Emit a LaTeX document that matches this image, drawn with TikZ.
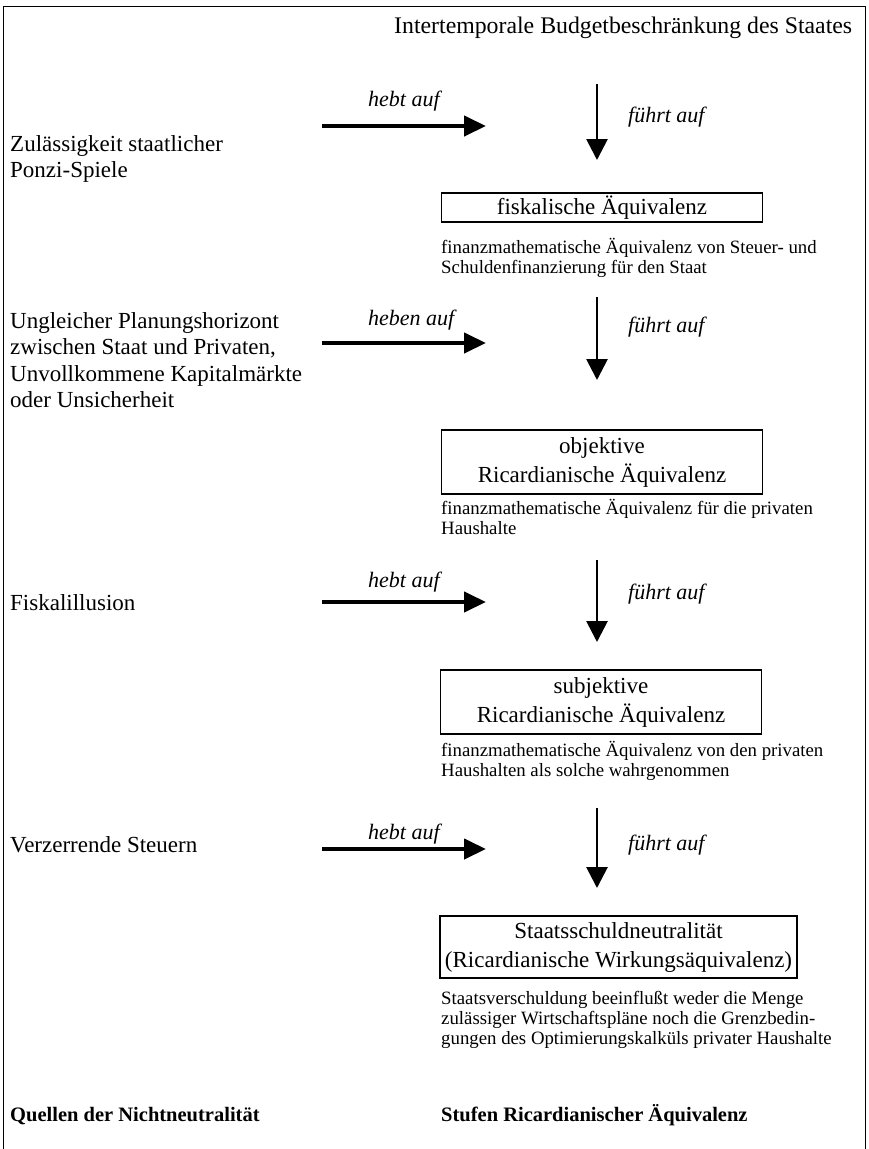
\documentclass[tikz,border=0pt]{standalone}
\usepackage{fontspec}
\setmainfont{Liberation Serif}
\usetikzlibrary{arrows.meta,positioning}

\begin{document}
\begin{tikzpicture}[x=1pt,y=-1pt,
    source/.style={anchor=north west,align=left,inner sep=0pt,font=\fontsize{23}{26.5}\selectfont},
    note/.style={anchor=north west,align=left,inner sep=0pt,font=\fontsize{18.8}{20}\selectfont},
    stage/.style={draw,line width=1.2pt,align=center,inner sep=0pt,font=\fontsize{23}{29}\selectfont},
    act/.style={anchor=base west,inner sep=0pt,font=\fontsize{22}{26}\selectfont\itshape},
    cancels/.style={line width=4.2pt,-{Triangle[length=22pt,width=20pt]}},
    leads/.style={line width=2.8pt,-{Triangle[length=21pt,width=21pt]}}]
    \useasboundingbox (0,0) rectangle (868,1149);
    % Draw frame (open at the bottom)
    \draw[line width=1pt] (3,1149) |- (865,6) -- (865,1149);
    % Top and bottom headings
    \node (budget) [anchor=base west,inner sep=0pt,font=\fontsize{23.8}{28}\selectfont] at (394,33)
        {Intertemporale Budgetbeschränkung des Staates};
    \node (quellen) [anchor=base west,inner sep=0pt,font=\fontsize{20.5}{24}\selectfont\bfseries] at (10,1121)
        {Quellen der Nichtneutralität};
    \node (stufen) [anchor=base west,inner sep=0pt,font=\fontsize{20.5}{24}\selectfont\bfseries] at (441,1121)
        {Stufen Ricardianischer Äquivalenz};
    % Stages of equivalence
    \node (fisk) [stage,minimum width=321pt,minimum height=29pt] at (602,207.5)
        {fiskalische Äquivalenz};
    \node (obj) [stage,minimum width=321pt,minimum height=64pt] at (602,462)
        {objektive\\Ricardianische Äquivalenz};
    \node (subj) [stage,minimum width=321pt,minimum height=64pt] at (601,702)
        {subjektive\\Ricardianische Äquivalenz};
    \node (neutr) [stage,minimum width=357pt,minimum height=62pt] at (618.5,947)
        {Staatsschuldneutralität\\(Ricardianische Wirkungsäquivalenz)};
    % Explanations below the boxes
    \node (fiskn) [note] at (441,238)
        {finanzmathematische Äquivalenz von Steuer- und\\Schuldenfinanzierung für den Staat};
    \node (objn) [note] at (441,499)
        {finanzmathematische Äquivalenz für die privaten\\Haushalte};
    \node (subjn) [note] at (441,741)
        {finanzmathematische Äquivalenz von den privaten\\Haushalten als solche wahrgenommen};
    \node (neutrn) [note] at (441,991)
        {Staatsverschuldung beeinflußt weder die Menge\\zulässiger Wirtschaftspläne noch die Grenzbedin-\\gungen des Optimierungskalküls privater Haushalte};
    % Sources of non-neutrality
    \node (ponzi) [source] at (10,135) {Zulässigkeit staatlicher\\Ponzi-Spiele};
    \node (horiz) [source] at (10,312)
        {Ungleicher Planungshorizont\\zwischen Staat und Privaten,\\Unvollkommene Kapitalmärkte\\oder Unsicherheit};
    \node (illus) [anchor=base west,inner sep=0pt,font=\fontsize{23}{26}\selectfont] at (10,610) {Fiskalillusion};
    \node (steuern) [anchor=base west,inner sep=0pt,font=\fontsize{23}{26}\selectfont] at (10,852) {Verzerrende Steuern};
    % Arrow labels
    \node (a1) [act] at (368,106) {hebt auf};
    \node (a2) [act] at (368,325) {heben auf};
    \node (a3) [act] at (368,587) {hebt auf};
    \node (a4) [act] at (368,839) {hebt auf};
    \node (f1) [act] at (628,122) {führt auf};
    \node (f2) [act] at (628,332) {führt auf};
    \node (f3) [act] at (628,599) {führt auf};
    \node (f4) [act] at (628,850) {führt auf};
    % Arrow end points
    \coordinate (h1) at (322,126);  \coordinate (h1e) at (486,126);
    \coordinate (h2) at (322,343);  \coordinate (h2e) at (486,343);
    \coordinate (h3) at (322,602);  \coordinate (h3e) at (486,602);
    \coordinate (h4) at (322,849);  \coordinate (h4e) at (486,849);
    \coordinate (v1) at (597,84);   \coordinate (v1e) at (597,160);
    \coordinate (v2) at (597,297);  \coordinate (v2e) at (597,380);
    \coordinate (v3) at (597,560);  \coordinate (v3e) at (597,642);
    \coordinate (v4) at (597,808);  \coordinate (v4e) at (597,888);
    % Draw the arrows
    \draw[cancels] (h1) -- (h1e);
    \draw[cancels] (h2) -- (h2e);
    \draw[cancels] (h3) -- (h3e);
    \draw[cancels] (h4) -- (h4e);
    \draw[leads] (v1) -- (v1e);
    \draw[leads] (v2) -- (v2e);
    \draw[leads] (v3) -- (v3e);
    \draw[leads] (v4) -- (v4e);
\end{tikzpicture}
\end{document}
